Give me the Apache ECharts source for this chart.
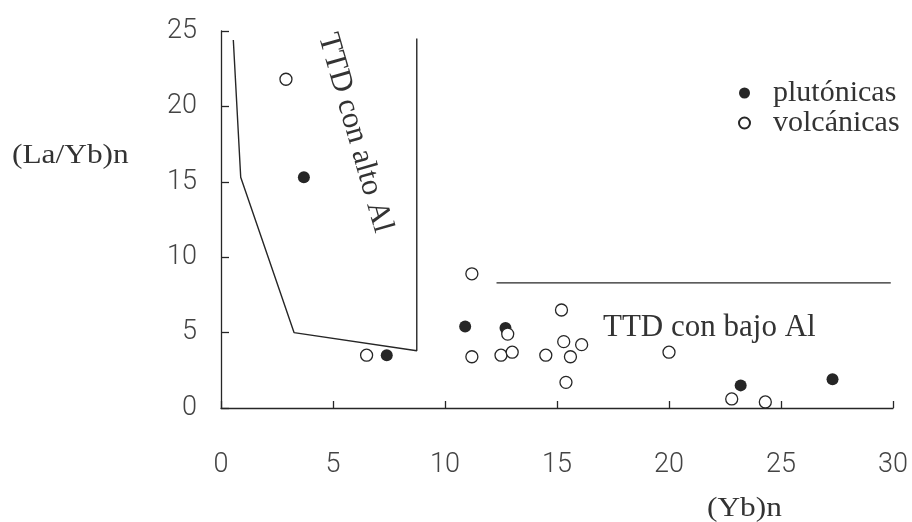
<!DOCTYPE html>
<html>
<head>
<meta charset="utf-8">
<script src="https://cdn.jsdelivr.net/npm/echarts@6/dist/echarts.min.js"></script>
<style>
  html, body { margin: 0; padding: 0; background: #fff; }
  #chart { width: 912px; height: 522px; }
</style>
</head>
<body>
<div id="chart"></div>
<script>
// ticks
var xTicks = [0, 5, 10, 15, 20, 25, 30]
var yTicks = [0, 5, 10, 15, 20, 25]

// (Yb)n, (La/Yb)n
var plutonicas = [
  [3.7, 15.3], [7.4, 3.5], [10.9, 5.4], [12.7, 5.3], [23.2, 1.5], [27.3, 1.9]
]
var volcanicas = [
  [2.9, 21.8], [6.5, 3.5], [11.2, 8.9], [11.2, 3.4], [12.5, 3.5], [12.8, 4.9],
  [13.0, 3.7], [14.5, 3.5], [15.2, 6.5], [15.3, 4.4], [15.6, 3.4], [16.1, 4.2],
  [15.4, 1.7], [20.0, 3.7], [22.8, 0.6], [24.3, 0.4]
]

// limites de campo
var campoAltoAl = [[0.55, 24.4], [0.88, 15.3], [3.26, 5.0], [8.74, 3.8], [8.74, 24.5]]
var campoBajoAl = [[12.3, 8.3], [29.9, 8.3]]

var chart = echarts.init(document.getElementById('chart'))

var serif = 'Liberation Serif'
var ink = '#262626'

chart.setOption({
  animation: false,
  grid: { left: 221, right: 19, top: 31, bottom: 114 },
  xAxis: {
    type: 'value',
    min: xTicks[0],
    max: xTicks[xTicks.length - 1],
    interval: 5,
    splitLine: { show: false },
    axisLine: { lineStyle: { color: ink, width: 1.3 } },
    axisTick: { inside: true, length: 7, lineStyle: { color: ink, width: 1.3 } },
    axisLabel: { margin: 44, fontFamily: 'Roboto', fontWeight: 300, fontSize: 27, color: '#444' }
  },
  yAxis: {
    type: 'value',
    min: yTicks[0],
    max: yTicks[yTicks.length - 1],
    interval: 5,
    splitLine: { show: false },
    axisLine: { show: true, lineStyle: { color: ink, width: 1.3 } },
    axisTick: { show: true, inside: true, length: 8, lineStyle: { color: ink, width: 1.3 } },
    axisLabel: { margin: 24, fontFamily: 'Roboto', fontWeight: 300, fontSize: 27, color: '#444' }
  },
  legend: {
    data: ['plutónicas', 'volcánicas'],
    orient: 'vertical',
    left: 733,
    top: 73,
    itemGap: 0,
    itemWidth: 11,
    itemHeight: 11,
    textStyle: { fontFamily: serif, fontSize: 30, color: '#333', padding: [0, 0, 0, 18] }
  },
  series: [
    {
      name: 'campo alto Al',
      type: 'line',
      data: campoAltoAl,
      symbol: 'none',
      lineStyle: { color: ink, width: 1.4 },
      silent: true
    },
    {
      name: 'campo bajo Al',
      type: 'line',
      data: campoBajoAl,
      symbol: 'none',
      lineStyle: { color: ink, width: 1.4 },
      silent: true
    },
    {
      name: 'plutónicas',
      type: 'scatter',
      data: plutonicas,
      symbolSize: 12,
      itemStyle: { color: ink, opacity: 1 }
    },
    {
      name: 'volcánicas',
      type: 'scatter',
      data: volcanicas,
      symbolSize: 12,
      z: 3,
      itemStyle: { color: '#fff', borderColor: ink, borderWidth: 1.3, opacity: 1 }
    }
  ],
  graphic: [
    {
      type: 'text', x: 12, y: 156, scaleX: 1.12,
      style: { text: '(La/Yb)n', font: '28px ' + serif, fill: '#333', textAlign: 'left', textVerticalAlign: 'middle' }
    },
    {
      type: 'text', x: 707, y: 509, scaleX: 1.12,
      style: { text: '(Yb)n', font: '28px ' + serif, fill: '#333', textAlign: 'left', textVerticalAlign: 'middle' }
    },
    {
      type: 'text', x: 603, y: 328,
      style: { text: 'TTD con bajo Al', font: '31px ' + serif, fill: '#333', textAlign: 'left', textVerticalAlign: 'middle' }
    },
    {
      type: 'text', x: 355, y: 133, rotation: -74 * Math.PI / 180,
      style: { text: 'TTD con alto Al', font: '31px ' + serif, fill: '#333', textAlign: 'center', textVerticalAlign: 'middle' }
    }
  ]
})
</script>
</body>
</html>
